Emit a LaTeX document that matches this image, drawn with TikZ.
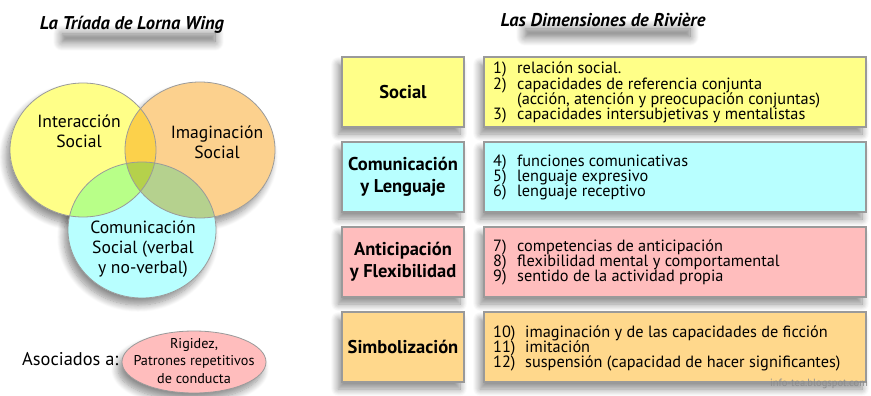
\documentclass[tikz,border=0pt]{standalone}
\usepackage{fontspec}
\setmainfont{PT Sans}
\usetikzlibrary{shadows.blur}
\definecolor{cyel}{HTML}{FFFF88}
\definecolor{corg}{HTML}{FCD18E}
\definecolor{ccya}{HTML}{B8FFFF}
\definecolor{cpnk}{HTML}{FFBDBD}
\definecolor{cbox}{HTML}{FFD88C}
\definecolor{cbrd}{HTML}{9A9A9A}
\tikzset{
  sh/.style={blur shadow={shadow xshift=-4pt, shadow yshift=-7pt, shadow blur steps=10, shadow opacity=45, shadow blur radius=7pt}},
  tsh/.style={blur shadow={shadow xshift=0pt, shadow yshift=0pt, shadow blur steps=12, shadow opacity=55, shadow blur radius=9pt}},
  dimbox/.style={draw=cbrd, line width=1.2pt, minimum width=122pt, minimum height=70pt, align=center, font=\fontsize{18.5}{22}\selectfont\bfseries, inner sep=0pt, sh},
  listbox/.style={draw=cbrd, line width=1.2pt, minimum width=382pt, minimum height=70pt, inner sep=0pt, sh},
  ltxt/.style={anchor=base west, font=\fontsize{16.3}{15}\selectfont, inner sep=0pt, text height=10.5pt, text depth=3.5pt},
  vtxt/.style={align=center, font=\fontsize{17.6}{20}\selectfont, inner sep=0pt},
  ttl/.style={font=\fontsize{18.5}{20}\selectfont\bfseries\itshape, inner sep=1pt},
}
\begin{document}
\begin{tikzpicture}[x=1pt,y=-1pt]
\useasboundingbox (0,0) rectangle (871,396);
% title shadows
\path[tsh] (62,34) rectangle (215,42);
\path[tsh] (525,29) rectangle (690,37);
\node[ttl] (t1) at (132,25) {La Tríada de Lorna Wing};
\node[ttl] (t2) at (603,20) {Las Dimensiones de Rivière};
% Venn shadows
\fill[white, sh] (83,150) ellipse (73pt and 67pt);
\fill[white, sh] (200,150) ellipse (75pt and 68pt);
\fill[white, sh] (142,230) ellipse (74pt and 68pt);
\fill[white] (83,150) ellipse (73pt and 67pt);
\fill[white] (200,150) ellipse (75pt and 68pt);
% Venn
\begin{scope}[blend group=multiply]
\fill[cyel] (83,150) ellipse (73pt and 67pt);
\fill[corg] (200,150) ellipse (75pt and 68pt);
\fill[ccya] (142,230) ellipse (74pt and 68pt);
\end{scope}
\draw[cbrd, line width=0.8pt] (83,150) ellipse (73pt and 67pt);
\draw[cbrd, line width=0.8pt] (200,150) ellipse (75pt and 68pt);
\draw[cbrd, line width=0.8pt] (142,230) ellipse (74pt and 68pt);
\node[vtxt] (vi) at (79,131) {Interacción\\Social};
\node[vtxt] (vm) at (217,142) {Imaginación\\Social};
\node[vtxt] (vc) at (143,249) {Comunicación\\Social (verbal\\y no-verbal)};
% Asociados
\node[anchor=west, font=\fontsize{18.4}{20}\selectfont, inner sep=0pt] (aso) at (22,359) {Asociados a:};
\fill[cpnk, draw=cbrd, line width=0.8pt, sh] (194,362) ellipse (72pt and 31pt);
\node[align=center, font=\fontsize{14.2}{17.5}\selectfont, inner sep=0pt] (rig) at (194,361) {Rigidez,\\Patrones repetitivos\\de conducta};
% Right side boxes
\node[dimbox, fill=cyel] (d1) at (403,92) {Social};
\node[dimbox, fill=ccya] (d2) at (403,177) {Comunicación\\y Lenguaje};
\node[dimbox, fill=cpnk] (d3) at (403,262) {Anticipación\\y Flexibilidad};
\node[dimbox, fill=cbox] (d4) at (403,347) {Simbolización};
\node[listbox, fill=cyel] (l1) at (675,92) {};
\node[listbox, fill=ccya] (l2) at (675,177) {};
\node[listbox, fill=cpnk] (l3) at (675,262) {};
\node[listbox, fill=cbox] (l4) at (675,347) {};
% list 1
\node[ltxt] (n1) at (493,73.5) {1)};  \node[ltxt] (i1) at (517,73.5) {relación social.};
\node[ltxt] (n2) at (493,89) {2)};  \node[ltxt] (i2) at (517,89) {capacidades de referencia conjunta};
\node[ltxt] (i2b) at (517,104) {(acción, atención y preocupación conjuntas)};
\node[ltxt] (n3) at (493,119) {3)}; \node[ltxt] (i3) at (517,119) {capacidades intersubjetivas y mentalistas};
% list 2
\node[ltxt] (n4) at (493,166.5) {4)}; \node[ltxt] (i4) at (517,166.5) {funciones comunicativas};
\node[ltxt] (n5) at (493,181.5) {5)}; \node[ltxt] (i5) at (517,181.5) {lenguaje expresivo};
\node[ltxt] (n6) at (493,196.5) {6)}; \node[ltxt] (i6) at (517,196.5) {lenguaje receptivo};
% list 3
\node[ltxt] (n7) at (493,251.5) {7)}; \node[ltxt] (i7) at (517,251.5) {competencias de anticipación};
\node[ltxt] (n8) at (493,266.5) {8)}; \node[ltxt] (i8) at (517,266.5) {flexibilidad mental y comportamental};
\node[ltxt] (n9) at (493,281.5) {9)}; \node[ltxt] (i9) at (517,281.5) {sentido de la actividad propia};
% list 4
\node[ltxt] (n10) at (493,337.5) {10)}; \node[ltxt] (i10) at (525,337.5) {imaginación y de las capacidades de ficción};
\node[ltxt] (n11) at (493,352.5) {11)}; \node[ltxt] (i11) at (525,352.5) {imitación};
\node[ltxt] (n12) at (493,367.5) {12)}; \node[ltxt] (i12) at (525,367.5) {suspensión (capacidad de hacer significantes)};
\node[anchor=east, font=\fontsize{10.5}{11}\selectfont, text=black!45, inner sep=0pt] (wm) at (868,384) {info-tea.blogspot.com};
\end{tikzpicture}
\end{document}
